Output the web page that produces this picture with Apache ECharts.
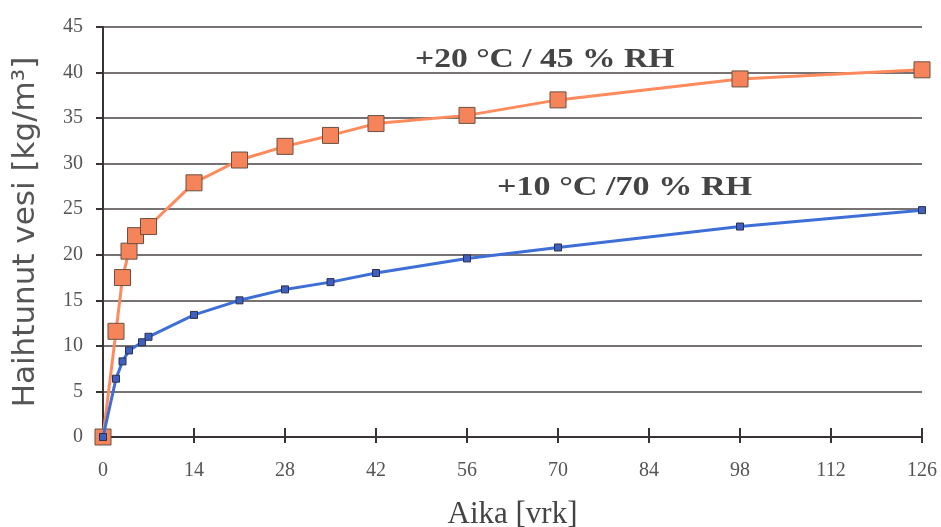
<!DOCTYPE html>
<html>
<head>
<meta charset="utf-8">
<title>Haihtunut vesi</title>
<script src="https://cdn.jsdelivr.net/npm/echarts@6/dist/echarts.min.js"></script>
<style>
  html, body { margin: 0; padding: 0; background: #fff; }
  #main { width: 941px; height: 527px; }
</style>
</head>
<body>
<div id="main"></div>
<script>
// data
var days20 = [0, 2, 3, 4, 5, 7, 14, 21, 28, 35, 42, 56, 70, 98, 126];
var water20 = [0, 11.6, 17.5, 20.4, 22.1, 23.1, 27.9, 30.4, 31.9, 33.1, 34.4, 35.3, 37.0, 39.3, 40.3];
var days10 = [0, 2, 3, 4, 6, 7, 14, 21, 28, 35, 42, 56, 70, 98, 126];
var water10 = [0, 6.4, 8.3, 9.5, 10.4, 11.0, 13.4, 15.0, 16.2, 17.0, 18.0, 19.6, 20.8, 23.1, 24.9];
var label20 = '+20 °C / 45 % RH';
var label10 = '+10 °C /70 % RH';

function pairs(xs, ys) {
  return xs.map(function (x, i) { return [x, ys[i]]; });
}

var myChart = echarts.init(document.getElementById('main'));

var labelFont = { fontFamily: '"Liberation Serif", "DejaVu Serif", serif', fontSize: 20, color: '#555' };

option = {
  animation: false,
  backgroundColor: '#fff',
  grid: { left: 103, right: 19, top: 27, bottom: 90, containLabel: false, outerBoundsMode: 'none' },
  xAxis: [{
    type: 'value', min: 0, max: 126, interval: 14,
    name: 'Aika [vrk]', nameLocation: 'middle', nameGap: 62,
    nameTextStyle: { fontFamily: '"Liberation Serif", serif', fontSize: 31, color: '#444' },
    axisLine: { show: true, onZero: false, lineStyle: { color: '#3a3333', width: 2 } },
    axisTick: { show: true, length: 6, lineStyle: { color: '#3a3333', width: 2 } },
    axisLabel: Object.assign({ margin: 24 }, labelFont),
    splitLine: { show: false }
  }, {
    type: 'value', min: 0, max: 126, interval: 14, position: 'bottom',
    axisLine: { show: false },
    axisTick: { show: true, inside: true, length: 9, lineStyle: { color: '#3a3333', width: 2 } },
    axisLabel: { show: false },
    splitLine: { show: false }
  }],
  yAxis: [{
    type: 'value', min: 0, max: 45, interval: 5,
    name: 'Haihtunut vesi [kg/m³]', nameLocation: 'middle', nameGap: 62,
    nameTextStyle: { fontFamily: '"DejaVu Sans", sans-serif', fontSize: 31, color: '#555' },
    axisLine: { show: true, lineStyle: { color: '#3a3333', width: 2 } },
    axisTick: { show: true, length: 7, lineStyle: { color: '#3a3333', width: 2 } },
    axisLabel: Object.assign({ margin: 20 }, labelFont),
    splitLine: { show: true, lineStyle: { color: '#4a4444', width: 1.5 } }
  }],
  graphic: [
    { type: 'text', x: 415, y: 46, scaleX: 1.2,
      style: { text: label20, font: 'bold 28px "Liberation Serif", serif', fill: '#444' } },
    { type: 'text', x: 497, y: 174, scaleX: 1.22,
      style: { text: label10, font: 'bold 28px "Liberation Serif", serif', fill: '#444' } }
  ],
  series: [
    {
      name: label20, type: 'line',
      data: pairs(days20, water20),
      symbol: 'rect', symbolSize: 16,
      lineStyle: { color: '#ff8a5c', width: 3 },
      itemStyle: { color: '#f5845a', borderColor: '#6b5040', borderWidth: 1 },
      z: 3
    },
    {
      name: label10, type: 'line',
      data: pairs(days10, water10),
      symbol: 'rect', symbolSize: 7,
      lineStyle: { color: '#3d6fd6', width: 3 },
      itemStyle: { color: '#4060c0', borderColor: '#2a3050', borderWidth: 1 },
      z: 4
    }
  ]
};

myChart.setOption(option);
</script>
</body>
</html>
